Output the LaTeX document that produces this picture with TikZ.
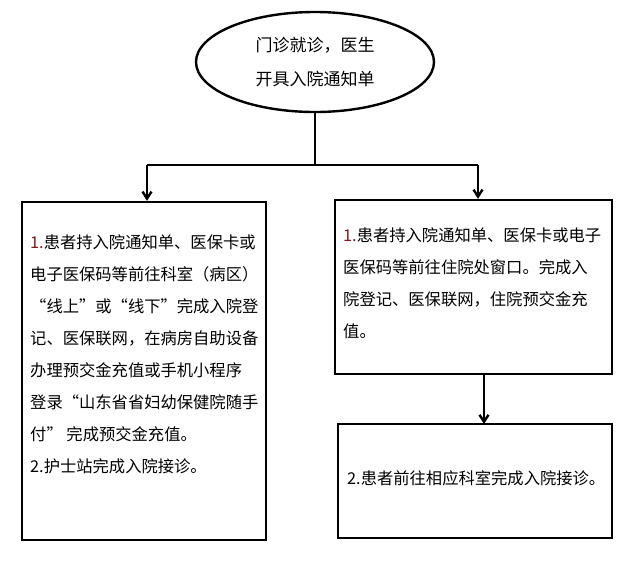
\documentclass[tikz,border=0pt]{standalone}
\usepackage{fontspec}
\newfontfamily\cjk{Noto Sans CJK SC}
\usetikzlibrary{arrows.meta,shapes.geometric}
\begin{document}
\begin{tikzpicture}[x=1pt,y=-1pt,
  ln/.style={line width=2.4pt},
  ar/.style={ln,-{Straight Barb[length=7pt,width=9pt]}},
  box/.style={draw,line width=2.4pt,rectangle,inner sep=0pt},
  txt/.style={font=\cjk\fontsize{16.3}{32}\selectfont,align=left,anchor=north west,inner sep=0pt}]
\useasboundingbox (0,0) rectangle (630,566);
\node[draw,ellipse,line width=2.4pt,minimum width=238pt,minimum height=100pt,font=\cjk\fontsize{17}{34}\selectfont,align=center] (e) at (315,62) {门诊就诊，医生\\开具入院通知单};
\node[box,minimum width=244pt,minimum height=338pt] (L) at (144,371) {};
\node[box,minimum width=277pt,minimum height=174pt] (R1) at (473.5,287) {};
\node[box,minimum width=274pt,minimum height=114pt] (R2) at (475,481) {};
\coordinate (j) at (315,165);
\coordinate (jl) at (147,165);
\coordinate (jr) at (478,165);
\draw[ln] (e.south) -- (j);
\draw[ln] (jl) -- (jr);
\draw[ar] (jl) -- (jl |- L.north);
\draw[ar] (jr) -- (jr |- R1.north);
\draw[ar] (484,374) -- (484,424);
\node[txt] (lt) at (30,234) {\textcolor[rgb]{0.5,0.1,0.1}{1.}患者持入院通知单、医保卡或\\电子医保码等前往科室（病区）\\“线上”或“线下”完成入院登\\记、医保联网，在病房自助设备\\办理预交金充值或手机小程序\\登录“山东省省妇幼保健院随手\\付” 完成预交金充值。\\2.护士站完成入院接诊。};
\node[txt] (rt) at (343,227) {\textcolor[rgb]{0.5,0.1,0.1}{1.}患者持入院通知单、医保卡或电子\\医保码等前往住院处窗口。完成入\\院登记、医保联网，住院预交金充\\值。};
\node[txt] (r2t) at (347,470) {2.患者前往相应科室完成入院接诊。};
\end{tikzpicture}
\end{document}
